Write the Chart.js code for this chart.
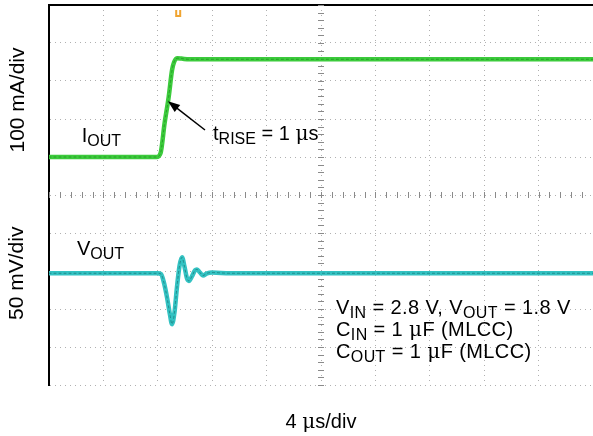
<!DOCTYPE html>
<html>
<head>
<meta charset="utf-8">
<script src="https://cdn.jsdelivr.net/npm/chart.js@4.4.1/dist/chart.umd.min.js"></script>
<style>
html, body { margin: 0; padding: 0; background: #fff; }
#wrap { width: 593px; height: 436px; position: relative; }
</style>
</head>
<body>
<div id="wrap"><canvas id="scope"></canvas></div>
<script>
// time in µs (4 µs/div), current in mA (100 mA/div), voltage deviation in mV (50 mV/div)
var tIout = [0, 7.9, 8.2, 8.5, 8.8, 9.05, 9.2, 9.45, 9.75, 10.3, 40];
var iOut  = [0, 0, 10, 89, 158, 229, 250, 260, 259, 257, 257];

var tVout = [0, 8.0, 8.24, 8.46, 8.68, 8.9, 9.04, 9.23, 9.41, 9.6, 9.78, 9.96, 10.15, 10.29, 10.51, 10.74, 10.88, 11.1, 11.32, 11.62, 11.99, 13.3, 40];
var vOut  = [0, 0, -1, -13, -32, -55, -67, -51, -18, 10, 21, 9, -7, -10, -4, 4, 5, 1, -3, 0, 1, 0, 0];

var xDiv = 4, iDiv = 100, vDiv = 50;
var trigT = 9.5;

function pts(xs, ys) {
  return xs.map(function (x, k) { return {x: x, y: ys[k]}; });
}

var MAIN = '20px "Liberation Sans", Arial, sans-serif';
var SUB = '16px "Liberation Sans", Arial, sans-serif';
var MU = '20px "DejaVu Serif", "Liberation Serif", serif';

// split "V_{IN} = 2.8 V" into runs with subscripts and a serif mu
function runs(str) {
  var out = [];
  str.split(/(_\{[^}]*\}|μ)/).forEach(function (p) {
    if (!p) return;
    if (p[0] === '_') out.push({t: p.slice(2, -1), f: SUB, dy: 4});
    else if (p === 'μ') out.push({t: p, f: MU, dy: 0});
    else out.push({t: p, f: MAIN, dy: 0});
  });
  return out;
}
function drawRuns(ctx, str, x, y, center) {
  var r = runs(str), w = 0;
  r.forEach(function (q) { ctx.font = q.f; w += ctx.measureText(q.t).width; });
  if (center) x -= w / 2;
  r.forEach(function (q) {
    ctx.font = q.f;
    ctx.fillText(q.t, x, y + q.dy);
    x += ctx.measureText(q.t).width;
  });
}

var scopeMarks = {
  id: 'scopeMarks',
  beforeDatasetsDraw: function (chart) {
    var ctx = chart.ctx, x = chart.scales.x, yI = chart.scales.yI;
    ctx.save();
    ctx.strokeStyle = '#8a8a8a';
    ctx.lineWidth = 1;
    var cy = yI.getPixelForValue(-100), cx = x.getPixelForValue(20);
    ctx.beginPath();
    for (var t = 0; t <= 40; t += xDiv / 5) {
      var px = Math.round(x.getPixelForValue(t)) + 0.5;
      ctx.moveTo(px, cy - 3); ctx.lineTo(px, cy + 3);
    }
    for (var v = -600; v <= 400; v += iDiv / 5) {
      var py = Math.round(yI.getPixelForValue(v)) + 0.5;
      ctx.moveTo(cx - 3, py); ctx.lineTo(cx + 3, py);
    }
    ctx.stroke();
    ctx.restore();
  },
  afterDatasetsDraw: function (chart) {
    var ctx = chart.ctx, x = chart.scales.x, yI = chart.scales.yI, yV = chart.scales.yV, a = chart.chartArea;
    ctx.save();
    // trigger marker
    var tx = x.getPixelForValue(trigT);
    ctx.strokeStyle = '#f0a430';
    ctx.lineWidth = 2;
    ctx.beginPath();
    ctx.moveTo(tx - 2, a.top + 5); ctx.lineTo(tx - 2, a.top + 11);
    ctx.lineTo(tx + 2, a.top + 11); ctx.lineTo(tx + 2, a.top + 5);
    ctx.stroke();

    ctx.fillStyle = '#000';
    ctx.textBaseline = 'alphabetic';
    ctx.textAlign = 'left';
    drawRuns(ctx, 'I_{OUT}', x.getPixelForValue(2.4), yI.getPixelForValue(40));
    drawRuns(ctx, 't_{RISE} = 1 μs', x.getPixelForValue(12.06), yI.getPixelForValue(45));
    drawRuns(ctx, 'V_{OUT}', x.getPixelForValue(2.06), yV.getPixelForValue(24));
    ctx.letterSpacing = '0.4px';
    drawRuns(ctx, 'V_{IN} = 2.8 V, V_{OUT} = 1.8 V', x.getPixelForValue(21.1), yV.getPixelForValue(-53));
    drawRuns(ctx, 'C_{IN} = 1 μF (MLCC)', x.getPixelForValue(21.1), yV.getPixelForValue(-82));
    drawRuns(ctx, 'C_{OUT} = 1 μF (MLCC)', x.getPixelForValue(21.1), yV.getPixelForValue(-112));
    ctx.letterSpacing = '0px';
    drawRuns(ctx, '4 μs/div', x.getPixelForValue(20), a.bottom + 43, true);

    // arrow to the rising edge
    var x1 = x.getPixelForValue(11.47), y1 = yI.getPixelForValue(71);
    var x2 = x.getPixelForValue(8.75), y2 = yI.getPixelForValue(147);
    var ang = Math.atan2(y2 - y1, x2 - x1);
    ctx.strokeStyle = '#000';
    ctx.lineWidth = 1.5;
    ctx.beginPath();
    ctx.moveTo(x1, y1);
    ctx.lineTo(x2 - 8 * Math.cos(ang), y2 - 8 * Math.sin(ang));
    ctx.stroke();
    ctx.beginPath();
    ctx.moveTo(x2, y2);
    ctx.lineTo(x2 - 12 * Math.cos(ang) + 4.5 * Math.sin(ang), y2 - 12 * Math.sin(ang) - 4.5 * Math.cos(ang));
    ctx.lineTo(x2 - 12 * Math.cos(ang) - 4.5 * Math.sin(ang), y2 - 12 * Math.sin(ang) + 4.5 * Math.cos(ang));
    ctx.closePath();
    ctx.fill();

    // rotated scale labels
    ctx.font = '21px "Liberation Sans", Arial, sans-serif';
    ctx.textAlign = 'center';
    ctx.textBaseline = 'middle';
    ctx.save();
    ctx.translate(a.left - 31, yI.getPixelForValue(150));
    ctx.rotate(-Math.PI / 2);
    ctx.fillText('100 mA/div', 0, 0);
    ctx.restore();
    ctx.save();
    ctx.translate(a.left - 32, yV.getPixelForValue(0));
    ctx.rotate(-Math.PI / 2);
    ctx.fillText('50 mV/div', 0, 0);
    ctx.restore();
    ctx.restore();
  }
};

var ctx = document.getElementById('scope').getContext('2d');
var chart = new Chart(ctx, {
  type: 'line',
  data: {
    datasets: [
      { data: pts(tIout, iOut), yAxisID: 'yI', borderColor: 'rgba(30,140,30,0.7)', borderWidth: 1, borderDash: [2, 3], order: 0 },
      { data: pts(tVout, vOut), yAxisID: 'yV', borderColor: 'rgba(25,115,115,0.7)', borderWidth: 1, borderDash: [2, 3], order: 0 },
      { data: pts(tIout, iOut), yAxisID: 'yI', borderColor: '#3ccb3c', borderWidth: 4.5, order: 1 },
      { data: pts(tVout, vOut), yAxisID: 'yV', borderColor: '#33c2c2', borderWidth: 4.5, order: 1 }
    ]
  },
  options: {
    responsive: true,
    maintainAspectRatio: false,
    animation: false,
    layout: { padding: { left: 49, top: 5, right: 0, bottom: 51 }, autoPadding: false },
    plugins: { legend: { display: false }, tooltip: { enabled: false } },
    elements: {
      point: { radius: 0 },
      line: { cubicInterpolationMode: 'monotone', borderCapStyle: 'round', borderJoinStyle: 'round', fill: false }
    },
    scales: {
      x: {
        type: 'linear', position: 'bottom', min: 0, max: 40,
        ticks: { display: false, stepSize: xDiv },
        grid: { color: '#b0b0b0', drawTicks: false },
        border: { display: false, dash: [1, 4] }
      },
      xTop: {
        type: 'linear', position: 'top', min: 0, max: 40,
        ticks: { display: false },
        grid: { display: false, drawTicks: false },
        border: { display: true, color: '#000', width: 2 }
      },
      yI: {
        position: 'left', min: -600, max: 400,
        ticks: { display: false, stepSize: iDiv },
        grid: { color: '#b0b0b0', drawTicks: false },
        border: { display: true, color: '#000', width: 2, dash: [1, 4] }
      },
      yV: { display: false, min: -147, max: 353, ticks: { stepSize: vDiv } }
    }
  },
  plugins: [scopeMarks]
});
</script>
</body>
</html>
